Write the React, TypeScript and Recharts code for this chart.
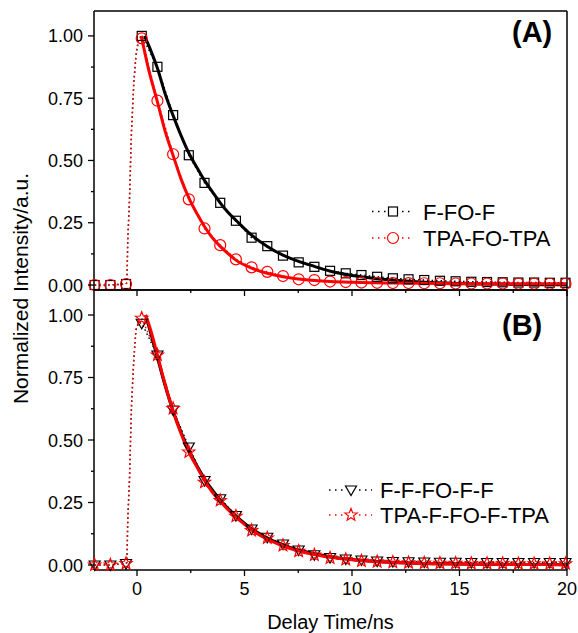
import React from 'react'
import { LineChart, Line, XAxis, YAxis } from 'recharts'

const FONT = '"Liberation Sans", Arial, Helvetica, sans-serif'

// sampled points that carry a symbol (same times for all four decays)
const markerTimes = [
  -1.97, -1.24, -0.51, 0.22, 0.95, 1.68, 2.41, 3.14, 3.87, 4.6, 5.33, 6.06, 6.79, 7.52, 8.25,
  8.98, 9.71, 10.44, 11.17, 11.9, 12.63, 13.36, 14.09, 14.82, 15.55, 16.28, 17.01, 17.74, 18.47, 19.2, 19.93,
]

// instrument rise between symbols
const riseTimes = [-0.47, -0.43, -0.35, -0.26, -0.15, -0.05, 0.08]
const riseA = [0.01, 0.18, 0.34, 0.61, 0.81, 0.92, 0.99]
const riseB = [0.01, 0.18, 0.34, 0.63, 0.82, 0.94, 0.97]

// panel A
const fFoF = [
  0, 0, 0.004, 1.0, 0.876, 0.682, 0.521, 0.41, 0.33, 0.258, 0.19, 0.156, 0.118, 0.091, 0.073,
  0.057, 0.047, 0.04, 0.033, 0.027, 0.023, 0.02, 0.017, 0.015, 0.013, 0.012, 0.011, 0.01, 0.01, 0.009, 0.009,
]
const tpaFoTpa = [
  0, 0, 0.004, 0.99, 0.74, 0.525, 0.344, 0.227, 0.16, 0.103, 0.071, 0.053, 0.036, 0.023, 0.02,
  0.014, 0.012, 0.01, 0.009, 0.008, 0.008, 0.007, 0.007, 0.006, 0.006, 0.006, 0.006, 0.005, 0.005, 0.005, 0.005,
]
const fitTimesA1 = [0.35, 0.6, 0.95, 1.3, 1.68, 2.05, 2.41, 2.8, 3.14, 3.5, 3.87, 4.25, 4.6, 5.33, 6.06, 6.79, 7.52, 8.25, 9, 10, 11, 12, 13, 14, 15, 16, 18, 20]
const fitA1 = [1.0, 0.95, 0.87, 0.77, 0.68, 0.6, 0.53, 0.47, 0.42, 0.375, 0.33, 0.29, 0.26, 0.2, 0.155, 0.12, 0.095, 0.075, 0.055, 0.038, 0.027, 0.019, 0.013, 0.009, 0.006, 0.004, 0.002, 0.001]
const fitTimesA2 = [0.2, 0.5, 0.95, 1.3, 1.68, 2.05, 2.41, 2.8, 3.14, 3.5, 3.87, 4.25, 4.6, 5.33, 6.06, 6.79, 7.52, 8.25, 9, 10, 11, 12, 14, 16, 18, 20]
const fitA2 = [1.0, 0.88, 0.735, 0.62, 0.52, 0.425, 0.35, 0.285, 0.235, 0.19, 0.155, 0.125, 0.1, 0.068, 0.047, 0.033, 0.024, 0.018, 0.014, 0.011, 0.009, 0.008, 0.006, 0.005, 0.005, 0.005]

// panel B
const ffFoFf = [
  0, 0, 0.006, 0.967, 0.84, 0.62, 0.472, 0.338, 0.265, 0.198, 0.144, 0.111, 0.084, 0.06, 0.041,
  0.03, 0.024, 0.02, 0.016, 0.014, 0.013, 0.012, 0.011, 0.011, 0.01, 0.01, 0.01, 0.01, 0.01, 0.01, 0.01,
]
const tpaFfoTpa = [
  0, 0, 0.006, 0.987, 0.84, 0.626, 0.452, 0.331, 0.258, 0.195, 0.138, 0.108, 0.078, 0.055, 0.04,
  0.028, 0.022, 0.016, 0.013, 0.011, 0.009, 0.008, 0.007, 0.007, 0.006, 0.006, 0.006, 0.005, 0.005, 0.005, 0.005,
]
const fitTimesB = [0.4, 0.6, 0.95, 1.3, 1.68, 2.05, 2.41, 2.8, 3.14, 3.5, 3.87, 4.25, 4.6, 5.33, 6.06, 6.79, 7.52, 8.25, 9, 10, 11, 12, 13, 14, 16, 18, 20]
const fitB1 = [1.0, 0.94, 0.83, 0.72, 0.615, 0.53, 0.46, 0.395, 0.345, 0.3, 0.26, 0.225, 0.197, 0.145, 0.108, 0.08, 0.06, 0.045, 0.033, 0.022, 0.015, 0.01, 0.007, 0.005, 0.003, 0.002, 0.001]
const fitB2 = [1.0, 0.95, 0.84, 0.725, 0.615, 0.525, 0.452, 0.39, 0.338, 0.292, 0.255, 0.22, 0.192, 0.14, 0.103, 0.076, 0.056, 0.042, 0.031, 0.021, 0.014, 0.01, 0.007, 0.005, 0.003, 0.002, 0.001]

const xTicks = [0, 2.5, 5, 7.5, 10, 12.5, 15, 17.5, 20]
const yTicks = [0, 0.125, 0.25, 0.375, 0.5, 0.625, 0.75, 0.875, 1.0]
const xDomain = [-2, 20]
const yDomain = [-0.02, 1.1]

const pts = (ts: number[], vs: number[]) => ts.map((t, i) => ({ t, v: vs[i] }))
const rawLine = (vals: number[], rise: number[]) => {
  const m = pts(markerTimes, vals)
  const lo = riseTimes[0]
  const hi = riseTimes[riseTimes.length - 1]
  return [...m.filter((p) => p.t < lo), ...pts(riseTimes, rise), ...m.filter((p) => p.t > hi)]
}

const isMajor = (v: number, step: number) => Math.abs(v / step - Math.round(v / step)) < 1e-6

function makeTick(side: 'left' | 'right' | 'top' | 'bottom', step: number, labels: boolean, fmt: (v: number) => string) {
  return (props: any) => {
    const { x, y, payload, index } = props
    const v = payload.value
    const major = isMajor(v, step)
    const len = major ? 6 : 3
    let l = { x1: x, x2: x, y1: y, y2: y }
    if (side === 'left') l = { x1: x - len, x2: x, y1: y, y2: y }
    if (side === 'right') l = { x1: x, x2: x + len, y1: y, y2: y }
    if (side === 'top') l = { x1: x, x2: x, y1: y - len, y2: y }
    if (side === 'bottom') l = { x1: x, x2: x, y1: y, y2: y + len }
    return (
      <g key={index}>
        <line {...l} stroke="#000" strokeWidth={1.3} />
        {labels && major && side === 'left' && (
          <text x={x - 11} y={y + 6.5} textAnchor="end" fontSize={18} fontFamily={FONT} fill="#000">
            {fmt(v)}
          </text>
        )}
        {labels && major && side === 'bottom' && (
          <text x={x} y={y + 25} textAnchor="middle" fontSize={18} fontFamily={FONT} fill="#000">
            {fmt(v)}
          </text>
        )}
      </g>
    )
  }
}

const square = (color: string) => (p: any) => (
  <rect key={p.index} x={p.cx - 4.5} y={p.cy - 4.5} width={9} height={9} fill="none" stroke={color} strokeWidth={1.2} />
)
const circle = (color: string) => (p: any) => (
  <circle key={p.index} cx={p.cx} cy={p.cy} r={5.5} fill="none" stroke={color} strokeWidth={1.2} />
)
const triPath = (cx: number, cy: number) => `M${cx - 5.5} ${cy - 4}L${cx + 5.5} ${cy - 4}L${cx} ${cy + 5.5}Z`
const starPath = (cx: number, cy: number) => {
  let d = ''
  for (let i = 0; i < 10; i++) {
    const rad = i % 2 === 0 ? 6.5 : 2.8
    const a = -Math.PI / 2 + (i * Math.PI) / 5
    d += (i ? 'L' : 'M') + (cx + rad * Math.cos(a)).toFixed(2) + ' ' + (cy + rad * Math.sin(a)).toFixed(2)
  }
  return d + 'Z'
}
const triangle = (color: string) => (p: any) => (
  <path key={p.index} d={triPath(p.cx, p.cy)} fill="none" stroke={color} strokeWidth={1.2} />
)
const star = (color: string) => (p: any) => (
  <path key={p.index} d={starPath(p.cx, p.cy)} fill="none" stroke={color} strokeWidth={1.2} />
)

const axisStyle = { stroke: '#000', strokeWidth: 1.5 }
const fmtY = (v: number) => v.toFixed(2)
const fmtX = (v: number) => String(v)

function Frame({ top, bottom, xLabels }: { top: number; bottom: number; xLabels: boolean }) {
  return [
    <XAxis key="xb" xAxisId="b" type="number" dataKey="t" domain={xDomain} ticks={xTicks} interval={0}
      height={bottom} tickSize={0} tickMargin={0} tickLine={false} axisLine={axisStyle}
      tick={makeTick('bottom', 5, xLabels, fmtX)}
      label={xLabels ? { value: 'Delay Time/ns', position: 'insideBottom', offset: 4, fontSize: 20, fill: '#000', fontFamily: FONT } : undefined} />,
    <XAxis key="xt" xAxisId="t" orientation="top" type="number" dataKey="t" domain={xDomain} ticks={xTicks} interval={0}
      height={top} tickSize={0} tickMargin={0} tickLine={false} axisLine={axisStyle}
      tick={xLabels ? false : makeTick('top', 5, false, fmtX)} />,
    <YAxis key="yl" yAxisId="l" type="number" domain={yDomain} ticks={yTicks} interval={0} width={94}
      tickSize={0} tickMargin={0} tickLine={false} axisLine={axisStyle} tick={makeTick('left', 0.25, true, fmtY)} />,
    <YAxis key="yr" yAxisId="r" orientation="right" type="number" domain={yDomain} ticks={yTicks} interval={0} width={11}
      tickSize={0} tickMargin={0} tickLine={false} axisLine={axisStyle} tick={makeTick('right', 0.25, false, fmtY)} />,
  ]
}

const dotted = { strokeWidth: 1.5, strokeDasharray: '1.5 3', dot: false, activeDot: false, isAnimationActive: false }
const fit = { strokeWidth: 3, dot: false, activeDot: false, isAnimationActive: false, type: 'monotone' as const }

function Legend({ x, x1, x2, mx, rows }: { x: number; x1: number; x2: number; mx: number; rows: { y: number; color: string; label: string; mark: (cx: number, cy: number, c: string) => React.ReactNode }[] }) {
  return (
    <g>
      {rows.map((r) => (
        <g key={r.label}>
          <line x1={x1} x2={x2} y1={r.y} y2={r.y} stroke={r.color} strokeWidth={1.5} strokeDasharray="1.5 4.5" />
          <rect x={mx - 7} y={r.y - 7} width={14} height={14} fill="#fff" />
          {r.mark(mx, r.y, r.color)}
          <text x={x} y={r.y + 8} fontSize={22} fontFamily={FONT} fill="#000">{r.label}</text>
        </g>
      ))}
    </g>
  )
}

export default function App() {
  return (
    <div style={{ position: 'absolute', left: 0, top: 0, width: 578, height: 633, background: '#fff', fontFamily: FONT }}>
      <div style={{ position: 'absolute', left: 0, top: 0 }}>
        <LineChart width={578} height={300} margin={{ top: 0, right: 0, bottom: 0, left: 0 }}>
          {Frame({ top: 11, bottom: 10, xLabels: false })}
          <Line xAxisId="b" yAxisId="l" data={rawLine(fFoF, riseA)} dataKey="v" stroke="#000" {...dotted} />
          <Line xAxisId="b" yAxisId="l" data={pts(markerTimes, fFoF)} dataKey="v" stroke="none" dot={square('#000')} activeDot={false} isAnimationActive={false} />
          <Line xAxisId="b" yAxisId="l" data={rawLine(tpaFoTpa, riseA)} dataKey="v" stroke="#ff0000" {...dotted} />
          <Line xAxisId="b" yAxisId="l" data={pts(markerTimes, tpaFoTpa)} dataKey="v" stroke="none" dot={circle('#ff0000')} activeDot={false} isAnimationActive={false} />
          <Line xAxisId="b" yAxisId="l" data={pts(fitTimesA1, fitA1)} dataKey="v" stroke="#000" {...fit} />
          <Line xAxisId="b" yAxisId="l" data={pts(fitTimesA2, fitA2)} dataKey="v" stroke="#ff0000" {...fit} />
        </LineChart>
      </div>
      <div style={{ position: 'absolute', left: 0, top: 280 }}>
        <LineChart width={578} height={353} margin={{ top: 0, right: 0, bottom: 0, left: 0 }}>
          {Frame({ top: 10, bottom: 63, xLabels: true })}
          <Line xAxisId="b" yAxisId="l" data={rawLine(ffFoFf, riseB)} dataKey="v" stroke="#000" {...dotted} />
          <Line xAxisId="b" yAxisId="l" data={pts(markerTimes, ffFoFf)} dataKey="v" stroke="none" dot={triangle('#000')} activeDot={false} isAnimationActive={false} />
          <Line xAxisId="b" yAxisId="l" data={rawLine(tpaFfoTpa, riseB)} dataKey="v" stroke="#ff0000" {...dotted} />
          <Line xAxisId="b" yAxisId="l" data={pts(markerTimes, tpaFfoTpa)} dataKey="v" stroke="none" dot={star('#ff0000')} activeDot={false} isAnimationActive={false} />
          <Line xAxisId="b" yAxisId="l" data={pts(fitTimesB, fitB1)} dataKey="v" stroke="#000" {...fit} />
          <Line xAxisId="b" yAxisId="l" data={pts(fitTimesB, fitB2)} dataKey="v" stroke="#ff0000" {...fit} />
        </LineChart>
      </div>
      <svg width={578} height={633} style={{ position: 'absolute', left: 0, top: 0, pointerEvents: 'none' }}>
        <text x={512} y={42} fontSize={29} fontWeight="bold" fontFamily={FONT} fill="#000">(A)</text>
        <text x={502} y={335} fontSize={29} fontWeight="bold" fontFamily={FONT} fill="#000">(B)</text>
        <Legend x={423} x1={372} x2={413} mx={393} rows={[
          { y: 211.5, color: '#000', label: 'F-FO-F', mark: (cx, cy, c) => square(c)({ cx, cy, index: 0 }) },
          { y: 238, color: '#ff0000', label: 'TPA-FO-TPA', mark: (cx, cy, c) => circle(c)({ cx, cy, index: 1 }) },
        ]} />
        <Legend x={380} x1={329} x2={372} mx={351} rows={[
          { y: 490, color: '#000', label: 'F-F-FO-F-F', mark: (cx, cy, c) => triangle(c)({ cx, cy, index: 0 }) },
          { y: 515, color: '#ff0000', label: 'TPA-F-FO-F-TPA', mark: (cx, cy, c) => star(c)({ cx, cy, index: 1 }) },
        ]} />
        <text transform="translate(28 288.5) rotate(-90)" textAnchor="middle" fontSize={21} fontFamily={FONT} fill="#000">
          Normalized Intensity/a.u.
        </text>
      </svg>
    </div>
  )
}
